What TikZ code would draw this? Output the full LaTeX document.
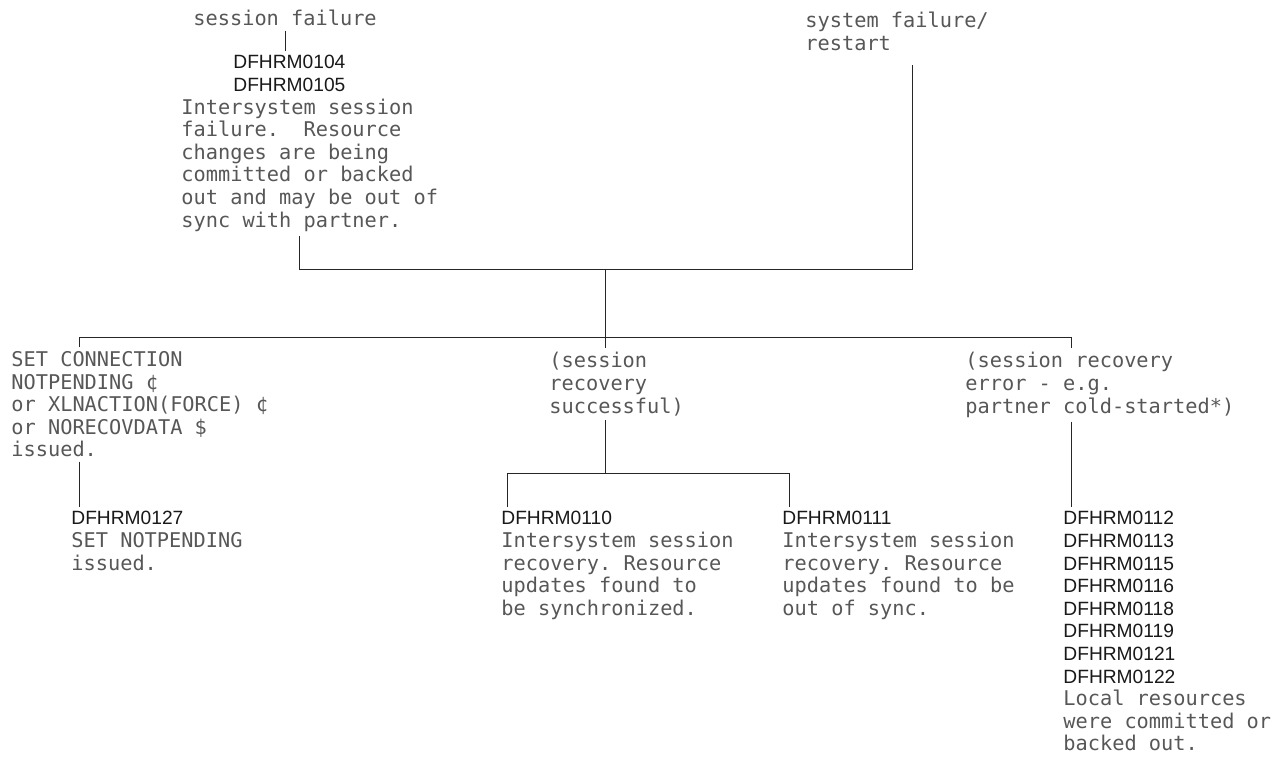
\documentclass[tikz,border=0pt]{standalone}
\usepackage{fontspec}
\usepackage{tikz}
\usetikzlibrary{positioning,calc}
\newfontfamily\diagmono{DejaVu Sans Mono}
\newfontfamily\diagsans{Liberation Sans}
\newcommand{\codefont}{\diagsans\fontsize{9.6pt}{11.3pt}\selectfont\color{black!90}}
\tikzset{
  lbl/.style={anchor=north west, inner sep=0pt, align=left, text=black!66,
    font=\diagmono\fontsize{10.15pt}{11.3pt}\selectfont\frenchspacing},
  link/.style={draw=black!85, line width=0.5pt}
}

\begin{document}
\begin{tikzpicture}[x=0.5pt, y=-0.5pt]
\useasboundingbox (0,0) rectangle (1286,757);
% top level
\node[lbl] (sfail) at (193,10) {session failure};
\node[lbl] (sysfail) at (805,12) {system failure/\\restart};
\node[lbl] (failcodes) at (181,55) {\hspace*{26pt}{\codefont DFHRM0104}\\
  \hspace*{26pt}{\codefont DFHRM0105}\\
  Intersystem session\\failure.\ \ Resource\\changes are being\\
  committed or backed\\out and may be out of\\sync with partner.};
% junctions
\coordinate (busL) at (299,269);
\coordinate (busR) at (912,269);
\coordinate (topjoin) at (605,269);
\coordinate (midjoin) at (605,337);
\coordinate (busL2) at (79,337);
\coordinate (busR2) at (1071,337);
\coordinate (recjoin) at (605,473);
\coordinate (busL3) at (507,473);
\coordinate (busR3) at (789,473);
% second level
\node[lbl] (setconn) at (11,351) {SET CONNECTION\\NOTPENDING ¢\\or XLNACTION(FORCE) ¢\\
  or NORECOVDATA \$\\issued.};
\node[lbl] (recov) at (549,352) {(session\\recovery\\successful)};
\node[lbl] (recerr) at (965,352) {(session recovery\\error - e.g.\\partner cold-started*)};
% messages
\node[lbl] (rm127) at (71,511) {{\codefont DFHRM0127}\\SET NOTPENDING\\issued.};
\node[lbl] (rm110) at (501,511) {{\codefont DFHRM0110}\\Intersystem session\\
  recovery. Resource\\updates found to\\be synchronized.};
\node[lbl] (rm111) at (782,511) {{\codefont DFHRM0111}\\Intersystem session\\
  recovery. Resource\\updates found to be\\out of sync.};
\node[lbl] (rm112) at (1063,511) {{\codefont DFHRM0112}\\{\codefont DFHRM0113}\\
  {\codefont DFHRM0115}\\{\codefont DFHRM0116}\\{\codefont DFHRM0118}\\
  {\codefont DFHRM0119}\\{\codefont DFHRM0121}\\{\codefont DFHRM0122}\\
  Local resources\\were committed or\\backed out.};
% connectors
\draw[link, shorten <=2pt, shorten >=2pt] (sfail.south) -- (sfail.south |- failcodes.north);
\draw[link, shorten <=7pt, shorten >=2pt] (sysfail.south -| busR) -- (busR) -- (busL) -- (failcodes.south -| busL);
\draw[link] (topjoin) -- (midjoin);
\draw[link, shorten >=2pt] (midjoin) -- (recov.north -| midjoin);
\draw[link, shorten <=2pt, shorten >=2pt] (setconn.north -| busL2) -- (busL2) -- (busR2) -- (recerr.north -| busR2);
\draw[link, shorten <=2pt, shorten >=2pt] (setconn.south -| busL2) -- (rm127.north -| busL2);
\draw[link, shorten <=2pt] (recov.south -| recjoin) -- (recjoin);
\draw[link, shorten <=2pt, shorten >=2pt] (rm110.north -| busL3) -- (busL3) -- (busR3) -- (rm111.north -| busR3);
\draw[link, shorten <=2pt, shorten >=2pt] (recerr.south -| busR2) -- (rm112.north -| busR2);
\end{tikzpicture}
\end{document}
